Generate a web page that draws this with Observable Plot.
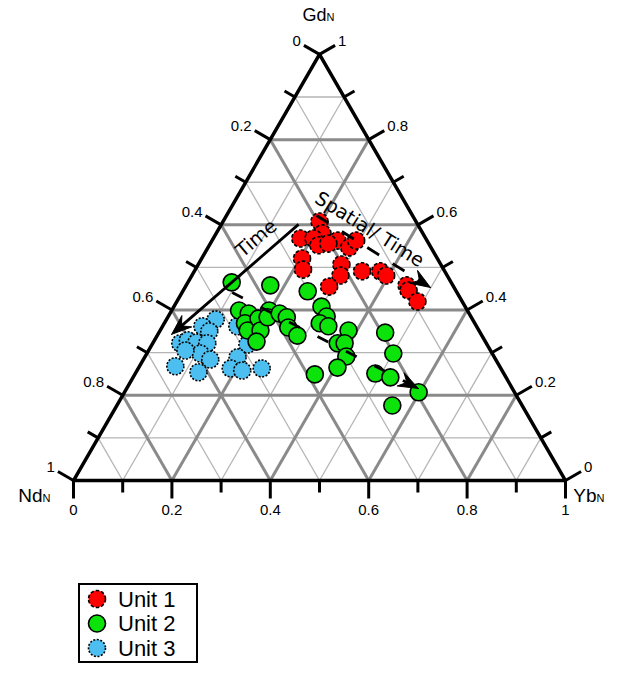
<!DOCTYPE html>
<html>
<head>
<meta charset="utf-8">
<script src="https://cdn.jsdelivr.net/npm/d3@7"></script>
<script src="https://cdn.jsdelivr.net/npm/@observablehq/plot@0.6"></script>
<style>
html,body{margin:0;padding:0;background:#fff;}
#wrap{position:relative;width:629px;height:673px;}
#legend{position:absolute;left:78px;top:583px;}
</style>
</head>
<body>
<div id="wrap"><div id="chart"></div><div id="legend"></div></div>
<script>
// ---------- data (normalized Gd and Yb; Nd = 1 - Gd - Yb) ----------
const units = ["Unit 1", "Unit 2", "Unit 3"];
const unitColors = ["#ff0000", "#0be30b", "#4cbff0"];

const unit1Gd = [0.608,0.580,0.568,0.568,0.552,0.563,0.547,0.563,0.521,0.495,0.507,0.481,0.455,0.491,0.491,0.481,0.458,0.446,0.420,0.556];
const unit1Yb = [0.196,0.216,0.177,0.204,0.222,0.255,0.287,0.293,0.204,0.219,0.291,0.302,0.292,0.341,0.378,0.395,0.448,0.458,0.489,0.240];

const unit2Gd = [0.465,0.458,0.444,0.399,0.392,0.369,0.352,0.380,0.352,0.399,0.383,0.392,0.383,0.359,0.340,0.326,0.408,0.385,0.369,0.362,0.352,0.322,0.322,0.291,0.265,0.249,0.347,0.298,0.251,0.242,0.207,0.176];
const unit2Yb = [0.089,0.171,0.254,0.137,0.160,0.164,0.178,0.186,0.204,0.198,0.203,0.223,0.242,0.257,0.285,0.209,0.300,0.322,0.316,0.337,0.383,0.376,0.390,0.409,0.404,0.366,0.460,0.501,0.488,0.523,0.598,0.560];

const unit3Gd = [0.378,0.362,0.350,0.322,0.329,0.324,0.322,0.298,0.284,0.268,0.254,0.305,0.319,0.289,0.263,0.258,0.263,0.362];
const unit3Yb = [0.100,0.081,0.101,0.056,0.068,0.088,0.111,0.109,0.136,0.073,0.127,0.075,0.194,0.189,0.188,0.214,0.251,0.152];

const tickLabels = ["0", "0.2", "0.4", "0.6", "0.8", "1"];
const axisNames = ["Gd", "Nd", "Yb"];

// trend arrows (start / tip in Yb, Gd)
const arrowStartYb = [0.157, 0.183, 0.102];
const arrowStartGd = [0.601, 0.622, 0.441];
const arrowEndYb   = [0.028, 0.499, 0.593];
const arrowEndGd   = [0.343, 0.453, 0.216];
const annoText = ["Time", "Spatial/ Time"];
const annoYb = [0.088, 0.307];
const annoGd = [0.568, 0.589];
const annoAngle = [-40, 32];

// ---------- geometry ----------
const S3 = Math.sqrt(3);
const xy = (yb, gd) => ({x: yb + gd / 2, y: gd * S3 / 2});
const X0 = 73, X1 = 565, Y0 = 480;
const unitPx = X1 - X0;

const grid = [];
for (let i = 1; i < 10; i++) {
  const v = i / 10, major = i % 2 === 0;
  [[xy(0, v), xy(1 - v, v)], [xy(v, 0), xy(v, 1 - v)], [xy(1 - v, 0), xy(0, 1 - v)]]
    .forEach(([a, b]) => grid.push({x1: a.x, y1: a.y, x2: b.x, y2: b.y, major}));
}

const sides = [
  {name: "bottom", at: v => xy(v, 0), dir: [0, -1]},
  {name: "left", at: v => xy(0, 1 - v), dir: [-S3 / 2, 0.5]},
  {name: "right", at: v => xy(1 - v, v), dir: [S3 / 2, 0.5]}
];
const ticks = [];
for (const s of sides) for (let i = 0; i <= 10; i++) {
  const v = i / 10, major = i % 2 === 0, len = (major ? 18 : 12) / unitPx;
  const p = s.at(v);
  ticks.push({side: s.name, major, label: major ? tickLabels[i / 2] : "",
    x1: p.x, y1: p.y, x2: p.x + s.dir[0] * len, y2: p.y + s.dir[1] * len});
}
const lab = side => ticks.filter(t => t.side === side && t.major);

const outline = [xy(0, 0), xy(1, 0), xy(0, 1), xy(0, 0)];

const makeUnit = (G, B) => G.map((g, i) => xy(B[i], g));
const u1 = makeUnit(unit1Gd, unit1Yb), u2 = makeUnit(unit2Gd, unit2Yb), u3 = makeUnit(unit3Gd, unit3Yb);

const arrows = arrowStartYb.map((_, i) => {
  const s = xy(arrowStartYb[i], arrowStartGd[i]), t = xy(arrowEndYb[i], arrowEndGd[i]);
  const dx = t.x - s.x, dy = t.y - s.y, d = Math.hypot(dx, dy);
  const ux = dx / d, uy = dy / d, px = -uy, py = ux;
  const L = 20 / unitPx, W = 7.5 / unitPx, N = 13 / unitPx;
  const base = {x: t.x - ux * L, y: t.y - uy * L};
  const notch = {x: t.x - ux * N, y: t.y - uy * N};
  return {s, notch, head: [t, {x: base.x + px * W, y: base.y + py * W}, notch, {x: base.x - px * W, y: base.y - py * W}, t].map(p => ({...p, z: i}))};
});
const arrowDash = [null, "14,16", "12,20"];

const anno = annoText.map((t, i) => ({text: t, rotate: annoAngle[i], ...xy(annoYb[i], annoGd[i])}));

const apex = [xy(0, 1)], ndV = [xy(0, 0)], ybV = [xy(1, 0)];

const dotOpts = (i, dash, sw) => ({x: "x", y: "y", r: 8.5, fill: unitColors[i], stroke: "black", strokeWidth: sw, strokeDasharray: dash});
const FS = 15;

const marks = [
  Plot.link(grid.filter(d => !d.major), {x1: "x1", y1: "y1", x2: "x2", y2: "y2", stroke: "#b5b5b5", strokeWidth: 1.3}),
  Plot.link(grid.filter(d => d.major), {x1: "x1", y1: "y1", x2: "x2", y2: "y2", stroke: "#8a8a8a", strokeWidth: 3}),
  Plot.line(outline, {x: "x", y: "y", stroke: "black", strokeWidth: 3.5}),
  Plot.link(ticks, {x1: "x1", y1: "y1", x2: "x2", y2: "y2", stroke: "black", strokeWidth: 3}),
  Plot.text(lab("left"), {x: "x2", y: "y2", text: "label", textAnchor: "end", dx: -3, dy: -4, fontSize: FS}),
  Plot.text(lab("right"), {x: "x2", y: "y2", text: "label", textAnchor: "start", dx: 3, dy: -4, fontSize: FS}),
  Plot.text(lab("bottom"), {x: "x2", y: "y2", text: "label", dy: 12, fontSize: FS}),
  // axis titles
  Plot.text(apex, {x: "x", y: "y", text: () => axisNames[0], textAnchor: "end", lineAnchor: "bottom", dx: 7, dy: -33, fontSize: 18}),
  Plot.text(apex, {x: "x", y: "y", text: () => "N", textAnchor: "start", lineAnchor: "bottom", dx: 7, dy: -33, fontSize: 11}),
  Plot.text(ndV, {x: "x", y: "y", text: () => axisNames[1], textAnchor: "end", lineAnchor: "bottom", dx: -31, dy: 21, fontSize: 19}),
  Plot.text(ndV, {x: "x", y: "y", text: () => "N", textAnchor: "start", lineAnchor: "bottom", dx: -31, dy: 21, fontSize: 11}),
  Plot.text(ybV, {x: "x", y: "y", text: () => axisNames[2], textAnchor: "end", lineAnchor: "bottom", dx: 31, dy: 21, fontSize: 19}),
  Plot.text(ybV, {x: "x", y: "y", text: () => "N", textAnchor: "start", lineAnchor: "bottom", dx: 31, dy: 21, fontSize: 11}),
  // points
  Plot.dot(u3, dotOpts(2, "2,1.6", 1.6)),
  Plot.dot(u2, dotOpts(1, null, 1.6)),
  Plot.dot(u1, dotOpts(0, "3.5,2", 1.6)),
  // arrows
  ...arrows.map((a, i) => Plot.link([a], {x1: d => d.s.x, y1: d => d.s.y, x2: d => d.notch.x, y2: d => d.notch.y,
      stroke: "black", strokeWidth: 2.8, strokeDasharray: arrowDash[i], strokeLinecap: "butt"})),
  Plot.line(arrows.flatMap(a => a.head), {x: "x", y: "y", z: "z", fill: "black", stroke: "black", strokeWidth: 1}),
  Plot.text(anno, {x: "x", y: "y", text: "text", rotate: "rotate", fontSize: 19, fontFamily: "DejaVu Sans"})
];

const chart = Plot.plot({
  width: 629, height: 575, margin: 0,
  x: {domain: [0, 1], range: [X0, X1], axis: null},
  y: {domain: [0, S3 / 2], range: [Y0, Y0 - unitPx * S3 / 2], axis: null},
  style: {fontFamily: '"Liberation Sans", Arial, sans-serif', fontSize: "15px", background: "white", overflow: "visible", color: "black"},
  marks
});
document.getElementById("chart").appendChild(chart);

// legend
const lg = d3.select("#legend").append("svg").attr("width", 121).attr("height", 81)
  .style("font-family", '"Liberation Sans", Arial, sans-serif');
lg.append("rect").attr("x", 1).attr("y", 1).attr("width", 118).attr("height", 78)
  .attr("fill", "white").attr("stroke", "black").attr("stroke-width", 2);
const legDash = ["3.5,2", null, "2,1.6"];
units.forEach((u, i) => {
  const cy = 16 + i * 24.5;
  lg.append("circle").attr("cx", 19).attr("cy", cy).attr("r", 8.5).attr("fill", unitColors[i])
    .attr("stroke", "black").attr("stroke-width", 1.6).attr("stroke-dasharray", legDash[i]);
  lg.append("text").attr("x", 40).attr("y", cy).attr("dy", "0.35em").attr("font-size", 22).text(u);
});
</script>
</body>
</html>
